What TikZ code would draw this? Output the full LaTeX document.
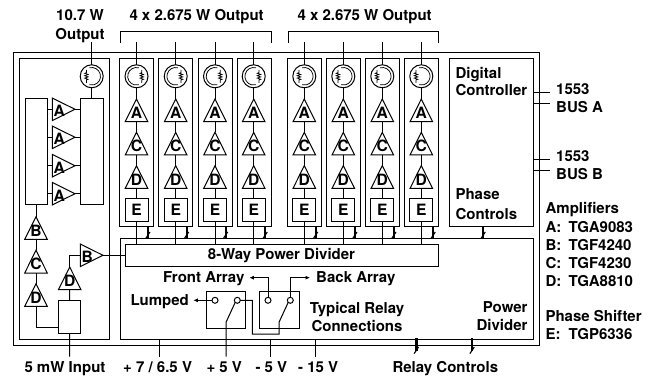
\documentclass[tikz,border=0pt]{standalone}
\usepackage{fontspec}
\setmainfont{TeX Gyre Heros}
\usetikzlibrary{arrows.meta}
\begin{document}
\begin{tikzpicture}[x=1pt,y=-1pt,
  line width=1pt,
  lbl/.style={font=\fontsize{15}{17}\selectfont\bfseries,inner sep=0pt},
  ltr/.style={font=\fontsize{15.6}{17}\selectfont\bfseries,inner sep=0pt},
  blk/.style={draw,fill=white,inner sep=0pt,outer sep=0pt},
  tube/.style={draw,circle,minimum size=23pt,inner sep=0pt,outer sep=0pt},
  pin/.style={draw,circle,minimum size=6pt,inner sep=0pt,outer sep=0pt,fill=white},
  tip/.style={-{Latex[length=4.5pt,width=4pt]}},
  bussl/.style={line width=2.2pt},
  fine/.style={line width=0.75pt}]
\useasboundingbox (0,0) rectangle (652,379);
\newcommand{\bx}[5]{\node[blk,anchor=north west,minimum width=#4-#2,minimum height=#5-#3] (#1) at (#2,#3) {};}
\newcommand{\triU}[4]{%
  \coordinate (#1t) at (#2,#3);
  \coordinate (#1b) at (#2,#3+22.7);
  \draw[fill=white] (#2,#3) -- (#2-11.3,#3+22.7) -- (#2+11.3,#3+22.7) -- cycle;
  \node[ltr] (#1l) at (#2,#3+14) {#4};}
\newcommand{\triR}[4]{%
  \coordinate (#1t) at (#2+22.7,#3);
  \coordinate (#1b) at (#2,#3);
  \draw[fill=white] (#2+22.7,#3) -- (#2,#3-11.3) -- (#2,#3+11.3) -- cycle;
  \node[ltr] (#1l) at (#2+7,#3+2) {#4};}
\newcommand{\coil}[2]{%
  \draw[fine] (#1,#2-6.5) -- (#1,#2-3.6) -- (#1-1.7,#2-3) -- (#1+1.7,#2-1.8) -- (#1-1.7,#2-0.6) -- (#1+1.7,#2+0.6) -- (#1-1.7,#2+1.8) -- (#1+1.7,#2+3) -- (#1,#2+3.6) -- (#1,#2+6.5);}
% y axis is flipped, so arc angles are negated
\newcommand{\isoC}[2]{%
  \draw[fine] (#1,#2) ++(-75:8.8) arc[start angle=-75,end angle=-285,radius=8.8];
  \coil{#1+5.3}{#2}}
\newcommand{\isoD}[2]{%
  \draw[fine] (#1,#2) ++(-105:8.8) arc[start angle=-105,end angle=105,radius=8.8];
  \coil{#1-5.3}{#2}}
\newcommand{\busmark}[2]{\draw[line width=1.1pt] (#1+2,#2-3) -- (#1-2.4,#2+3.6);}
% enclosures
\bx{outer}{13.5}{53}{539}{345}
\bx{leftbox}{19}{59}{109}{339}
\bx{digital}{449.5}{59}{533.7}{226.7}
\bx{pwr}{120}{238.3}{533.7}{339}
\foreach \n/\xa/\xb in {1/119.7/153.7,2/158.7/192.7,3/198/232,4/237/271,5/287.3/321.3,6/326.5/360.5,7/365.5/399.5,8/404.7/438.7}{
  \bx{col\n}{\xa}{59}{\xb}{226.7}
}
\bx{way}{125.3}{244.3}{438.7}{266.3}
\node[lbl,anchor=base] (waytxt) at (281.5,259.3) {8-Way Power Divider};
% brackets
\coordinate (brA1) at (120,42.7); \coordinate (brA2) at (271,42.7);
\coordinate (brB1) at (288,42.7); \coordinate (brB2) at (438.5,42.7);
\draw (brA1) |- (271,31.3) -- (brA2);
\draw (brB1) |- (438.5,31.3) -- (brB2);
% channels
\foreach \n/\cx/\busx/\iso in {1/136.5/148/\isoC,2/175.7/186.7/\isoC,3/215/225.7/\isoC,4/253.7/265.3/\isoC,5/304.3/315.7/\isoD,6/343.3/355/\isoD,7/382.3/394/\isoD,8/421.3/433.3/\isoD}{
  \coordinate (o\n) at (\cx,42);
  \node[tube] (iso\n) at (\cx,76.3) {};
  \iso{\cx}{76.3}
  \triU{a\n}{\cx}{99}{A}
  \triU{c\n}{\cx}{132.3}{C}
  \triU{d\n}{\cx}{165.7}{D}
  \node[blk,minimum width=23pt,minimum height=22.7pt,ltr] (e\n) at (\cx,210.3) {E};
  \coordinate (w\n) at (\cx,244.3);
  \draw (o\n) -- (iso\n.north);
  \draw (iso\n.south) -- (a\n t);
  \draw (a\n b) -- (c\n t);
  \draw (c\n b) -- (d\n t);
  \draw (d\n b) -- (e\n.north);
  \draw (e\n.south) -- (w\n);
  \coordinate (bt\n) at (\busx,226.7);
  \coordinate (bb\n) at (\busx,238.3);
  \draw[bussl] (bt\n) -- (bb\n);
  \busmark{\busx}{235}
}
\coordinate (btp) at (483.3,226.7); \coordinate (bbp) at (483.3,238.3);
\draw[bussl] (btp) -- (bbp);
\busmark{483.3}{235}
% left amplifier chain
\bx{splitL}{25}{98.3}{47.3}{204.7}
\bx{combR}{80.7}{98.3}{103.3}{204.7}
\node[tube] (isoL) at (91.7,76.3) {};
\isoD{91.7}{76.3}
\coordinate (outL) at (91.7,42);
\draw (outL) -- (isoL.north);
\draw (isoL.south) -- (combR.north -| isoL.south);
\foreach \kk/\yy in {1/109.3,2/137.3,3/165.7,4/193.7}{
  \triR{amp\kk}{52.3}{\yy}{A}
  \draw (splitL.east |- amp\kk b) -- (amp\kk b);
  \draw (amp\kk t) -- (combR.west |- amp\kk t);
}
\triU{bL}{36}{216.7}{B}
\triU{cL}{36}{250.3}{C}
\triU{dL}{36}{283.7}{D}
\draw (splitL.south -| bLt) -- (bLt);
\draw (bLb) -- (cLt);
\draw (cLb) -- (dLt);
\bx{splitIn}{58.3}{300}{80.7}{333.7}
\draw (dLb) |- (58.3,327.3);
\triU{dR}{69.7}{267}{D}
\draw (dRb) -- (splitIn.north);
\triR{bR}{80.3}{255.3}{B}
\draw (dRt) |- (bRb);
\draw (bRt) -- (way.west |- bRt);
\coordinate (inL) at (69.7,356.5);
\draw (splitIn.south) -- (inL);
% relays
\bx{relA}{206.7}{291.3}{245.3}{328}
\bx{relB}{259.3}{291.3}{299}{328}
\node[pin] (pa1) at (215,300.3) {};
\node[pin] (pa2) at (237.3,300.3) {};
\node[pin] (pb1) at (268,300.3) {};
\node[pin] (pb2) at (290.3,300.3) {};
\coordinate (fa) at (249.3,277.7);
\coordinate (ba) at (310,277.7);
\coordinate (lu) at (193.3,300.3);
\coordinate (v5) at (226,356.5);
\draw[tip] (pa1.west) -- (lu);
\draw[tip] (pb1.north) |- (fa);
\draw[tip] (pb2.north) |- (ba);
\draw (pa2.south west) -- (226,322.3) -- (v5);
\draw (pb2.south west) -- (279,322.3) -- (279,334) -- (252.3,334) -- (252.3,300.3) -- (pa2.east);
% supply stubs
\coordinate (s7t) at (159,339); \coordinate (s7b) at (159,356.5);
\coordinate (sm5t) at (270.7,339); \coordinate (sm5b) at (270.7,356.5);
\coordinate (sm15t) at (315.3,339); \coordinate (sm15b) at (315.3,356.5);
\draw (s7t) -- (s7b); \draw (sm5t) -- (sm5b); \draw (sm15t) -- (sm15b);
\coordinate (rc1t) at (416.5,338); \coordinate (rc1m) at (416.5,351);
\coordinate (rc2t) at (472.3,338); \coordinate (rc2m) at (472.3,351);
\draw[bussl] (rc1t) -- (rc1m); \draw[bussl] (rc2t) -- (rc2m);
\busmark{416.5}{350}
\busmark{472.3}{350}
% bus lines
\coordinate (b1a) at (550,93); \coordinate (b1b) at (550,104);
\coordinate (b2a) at (550,160); \coordinate (b2b) at (550,171);
\draw (digital.east |- b1a) -- (b1a); \draw (digital.east |- b1b) -- (b1b);
\draw (digital.east |- b2a) -- (b2a); \draw (digital.east |- b2b) -- (b2b);
% labels
\newcommand{\lab}[5][]{\node[lbl,anchor=base #1] (#2) at (#3,#4) {#5};}
\lab{t1}{80}{21}{10.7 W}
\lab{t2}{80}{39.3}{Output}
\lab[west]{t3}{129}{21}{4 x 2.675 W Output}
\lab[west]{t4}{297}{21}{4 x 2.675 W Output}
\lab[west]{t5}{455}{78.3}{Digital}
\lab[west]{t6}{455}{96}{Controller}
\lab[west]{t7}{455}{199.5}{Phase}
\lab[west]{t8}{455}{219}{Controls}
\lab[west]{t9}{555.7}{95}{1553}
\lab[west]{t10}{555.7}{112.3}{BUS A}
\lab[west]{t11}{555.7}{162}{1553}
\lab[west]{t12}{555.7}{179.3}{BUS B}
\lab[west]{t13}{545}{214}{Amplifiers}
\foreach \m/\yy/\pp/\qq in {a/232/A/TGA9083,b/250/B/TGF4240,c/268/C/TGF4230,d/286/D/TGA8810,e/339.7/E/TGP6336}{
  \lab[west]{k\m}{545}{\yy}{\pp:}
  \lab[west]{v\m}{568}{\yy}{\qq}
}
\lab[west]{t14}{545}{321}{Phase Shifter}
\lab[east]{t15}{528}{312}{Power}
\lab[east]{t16}{528}{330}{Divider}
\lab[west]{t17}{162.7}{282.3}{Front Array}
\lab[west]{t18}{315.7}{282.3}{Back Array}
\lab[west]{t19}{130}{305}{Lumped}
\lab{t20}{357}{313.3}{Typical Relay}
\lab{t21}{357}{331}{Connections}
\lab[west]{t22}{24}{372}{5 mW Input}
\lab[west]{t23}{122.7}{372}{+ 7 / 6.5 V}
\lab[west]{t24}{206}{372}{+ 5 V}
\lab[west]{t25}{255}{372}{- 5 V}
\lab[west]{t26}{297.7}{372}{- 15 V}
\lab[west]{t27}{392}{372}{Relay Controls}
\end{tikzpicture}
\end{document}
